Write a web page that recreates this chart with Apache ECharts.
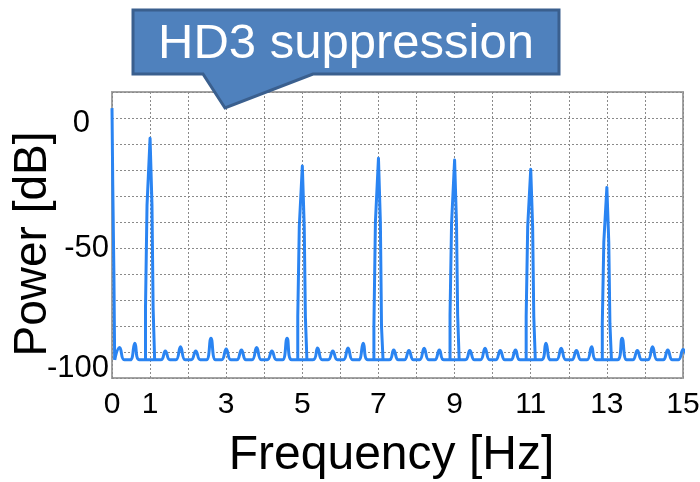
<!DOCTYPE html>
<html>
<head>
<meta charset="utf-8">
<script src="https://cdn.jsdelivr.net/npm/echarts@6/dist/echarts.min.js"></script>
<style>
  html, body { margin: 0; padding: 0; background: #ffffff; }
  #chart { width: 700px; height: 482px; }
</style>
</head>
<body>
<div id="chart"></div>
<script>
// Axis tick labels
const xTickLabels = ['0', '1', '3', '5', '7', '9', '11', '13', '15'];
const yTickLabels = ['0', '-50', '-100'];

// DC component at the left edge [Hz] / [dB]
const dcHz = [0, 0.02, 0.05, 0.07];
const dcDb = [3.8, -25.8, -60, -93];

// Odd-harmonic tones: peak, shoulder and skirt levels [dB]
const toneHz = [1, 5, 7, 9, 11, 13];
const tonePeakDb = [-7.8, -18.5, -15.5, -16.2, -19.7, -26.7];
const toneShoulderDb = [-33.5, -41.8, -39.9, -40.5, -41.8, -47.6];
const toneSkirtDb = [-73.1, -76.4, -80.3, -75.8, -76.4, -79.0];

// Small spurs sitting on the noise floor [Hz] / [dB]
const spurHz = [0.2, 0.6, 1.4, 1.8, 2.2, 2.6, 3.0, 3.4, 3.8, 4.2, 4.6,
                5.4, 5.8, 6.2, 6.6, 7.4, 7.8, 8.2, 8.6, 9.4, 9.8, 10.2, 10.6,
                11.4, 11.8, 12.2, 12.6, 13.4, 13.8, 14.2, 14.6, 15.0];
const spurDb = [-88.3, -86.6, -89.6, -88.0, -89.6, -84.7, -88.8, -89.2, -88.3, -89.6, -84.7,
                -88.5, -89.6, -88.5, -86.6, -89.2, -89.4, -88.6, -89.2, -89.4, -88.6, -89.4, -89.2,
                -86.6, -88.6, -89.4, -88.0, -84.7, -89.4, -88.0, -89.2, -89.0];

const noiseFloorDb = -93;

// Noise floor with its spurs (drawn smoothed)
function buildFloor() {
  const pts = [[dcHz[dcHz.length - 1], noiseFloorDb]];
  spurHz.forEach((f, i) => {
    pts.push([f - 0.12, noiseFloorDb], [f, spurDb[i]], [f + 0.12, noiseFloorDb]);
  });
  return pts;
}

// DC edge and the stepped tone lines (drawn straight)
function buildTones() {
  const pts = [];
  for (let i = 0; i < dcHz.length; i++) pts.push([dcHz[i], dcDb[i]]);
  pts.push(null);
  toneHz.forEach((f, i) => {
    const p = tonePeakDb[i], s = toneShoulderDb[i], k = toneSkirtDb[i];
    pts.push(
      [f - 0.12, noiseFloorDb], [f - 0.12, k], [f - 0.08, k], [f - 0.08, s], [f - 0.05, s],
      [f, p],
      [f + 0.05, s], [f + 0.08, s], [f + 0.08, k], [f + 0.12, k], [f + 0.12, noiseFloorDb],
      null
    );
  });
  return pts.map(p => (p === null ? '-' : p));
}

const chart = echarts.init(document.getElementById('chart'), null, { renderer: 'canvas' });
const FONT = '"Liberation Sans", Arial, sans-serif';
const TRACE = '#2a84f2';

chart.setOption({
  animation: false,
  backgroundColor: '#ffffff',
  grid: {
    left: 112, right: 17, top: 92, bottom: 104,
    containLabel: false, outerBoundsMode: 'none',
    show: true, borderColor: '#a3a3a3', borderWidth: 2, backgroundColor: 'transparent'
  },
  xAxis: {
    type: 'value', min: 0, max: 15, interval: 1,
    name: 'Frequency [Hz]', nameLocation: 'middle', nameGap: 54, nameMoveOverlap: false,
    nameTextStyle: { fontSize: 48, fontFamily: FONT, color: '#000', padding: [0, 12, 0, 0] },
    axisLine: { show: false }, axisTick: { show: false },
    axisLabel: {
      fontSize: 30, fontFamily: FONT, color: '#000', margin: 12,
      formatter: v => (xTickLabels.indexOf(String(v)) >= 0 ? String(v) : '')
    },
    splitLine: { show: true, lineStyle: { color: '#8a8a8a', width: 1, type: [2, 2] } }
  },
  yAxis: {
    type: 'value', min: -100, max: 10, interval: 10,
    name: 'Power [dB]', nameLocation: 'middle', nameGap: 56, nameRotate: 90, nameMoveOverlap: false,
    nameTextStyle: { fontSize: 46, fontFamily: FONT, color: '#000', padding: [0, 18, 0, 0] },
    axisLine: { show: false }, axisTick: { show: false },
    axisLabel: {
      fontSize: 31, fontFamily: FONT, color: '#000', margin: 3,
      formatter: v => {
        const s = String(v);
        if (yTickLabels.indexOf(s) < 0) return '';
        if (s === '0') return '{z|' + s + '}';
        if (s === '-100') return '{b|' + s + '}';
        return s;
      },
      rich: {
        z: { fontSize: 31, fontFamily: FONT, color: '#000', padding: [11, 19, 0, 0] },
        b: { fontSize: 31, fontFamily: FONT, color: '#000', padding: [0, 0, 20, 0] }
      }
    },
    splitLine: { show: true, lineStyle: { color: '#8a8a8a', width: 1, type: [2, 2] } }
  },
  series: [
    {
      type: 'line',
      data: buildFloor(),
      showSymbol: false,
      smooth: 0.45,
      clip: true,
      lineStyle: { color: TRACE, width: 3, join: 'round' },
      z: 3
    },
    {
      type: 'line',
      data: buildTones(),
      connectNulls: false,
      showSymbol: false,
      clip: true,
      lineStyle: { color: TRACE, width: 3, join: 'round' },
      z: 4
    }
  ],
  graphic: [
    {
      type: 'polygon',
      shape: {
        points: [[133, 10], [559, 10], [559, 74], [313, 74], [225, 108], [203, 74], [133, 74]]
      },
      style: { fill: '#4f81bd', stroke: '#3a5f8e', lineWidth: 3, lineJoin: 'miter' },
      z: 100
    },
    {
      type: 'text',
      x: 346, y: 44,
      style: {
        text: 'HD3 suppression',
        fill: '#ffffff',
        font: '49px ' + FONT,
        textAlign: 'center',
        textVerticalAlign: 'middle'
      },
      z: 101
    }
  ]
});
</script>
</body>
</html>
